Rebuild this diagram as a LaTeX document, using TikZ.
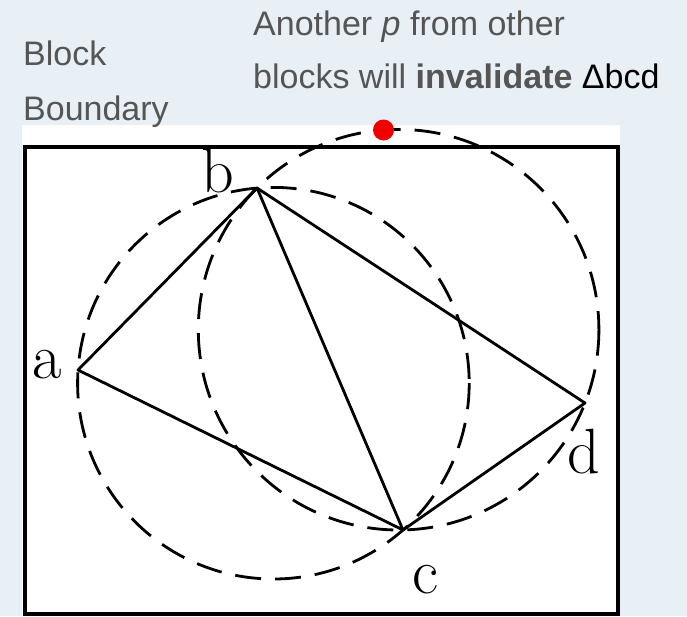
\documentclass[tikz,border=0pt]{standalone}
\usepackage{fontspec}
\newfontfamily\arialf{Liberation Sans}
\definecolor{bgblue}{RGB}{232,240,246}
\definecolor{notegray}{RGB}{85,85,85}
\definecolor{dotred}{RGB}{240,0,0}
\begin{document}
\begin{tikzpicture}[x=1pt,y=-1pt,
  edge/.style={line width=2.8pt, line cap=round, line join=round},
  circ/.style={line width=2.8pt, dash pattern=on 26pt off 14pt},
  lbl/.style={font=\fontsize{64}{64}\selectfont, inner sep=0pt, anchor=base},
  note/.style={font=\arialf\fontsize{34}{34}\selectfont, text=notegray, inner sep=0pt, anchor=base west}]
\useasboundingbox (0,0) rectangle (687,616);
\fill[bgblue] (0,0) rectangle (687,616);
\fill[white] (22,125) rectangle (620,616);
\draw[line width=3.4pt] (25,147) rectangle (618,614);
% vertices
\coordinate (a) at (78,370);
\coordinate (b) at (257,188);
\coordinate (c) at (403,530);
\coordinate (d) at (585,403);
\coordinate (o1) at (273.4,383.2);
\coordinate (o2) at (398.6,329.7);
% circumcircles
\draw[circ] (o1) circle[radius=195.8];
\draw[circ] (o2) circle[radius=200.3];
% triangles
\draw[edge] (a) -- (b) -- (c) -- cycle;
\draw[edge] (b) -- (d) -- (c);
% labels
\node[lbl] (la) at (47,378) {a};
\node[lbl] (lb) at (218,192) {b};
\node[lbl] (lc) at (425,593) {c};
\node[lbl] (ld) at (584,473) {d};
% red point
\fill[dotred] (383.5,130) circle[radius=10.5];
% notes
\node[note] (n1) at (23,65) {Block};
\node[note] (n2) at (23,120) {Boundary};
\node[note] (n3) at (253,35) {Another \textit{p} from other};
\node[note] (n4) at (253,88) {blocks will \textbf{invalidate} \textcolor{black}{Δbcd}};
\end{tikzpicture}
\end{document}
